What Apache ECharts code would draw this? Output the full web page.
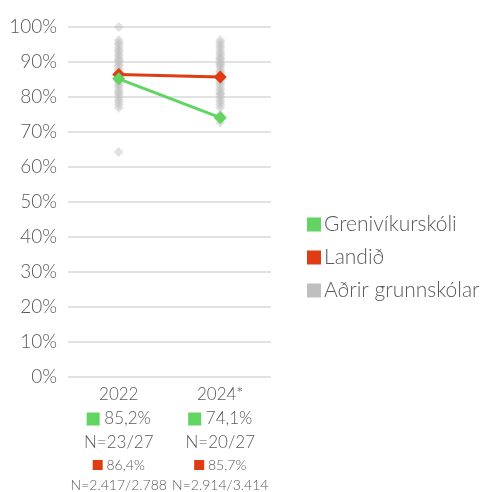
<!DOCTYPE html>
<html>
<head>
<meta charset="utf-8">
<script src="https://cdn.jsdelivr.net/npm/echarts@6/dist/echarts.min.js"></script>
<style>
  html, body { margin: 0; padding: 0; background: #fff; }
  #chart { width: 482px; height: 492px; }
</style>
</head>
<body>
<div id="chart"></div>
<script>
var years = ['2022', '2024*']
var schoolValues = [85.2, 74.1]
var schoolLabels = ['85,2%', '74,1%']
var schoolCounts = ['N=23/27', 'N=20/27']
var landValues = [86.4, 85.7]
var landLabels = ['86,4%', '85,7%']
var landCounts = ['N=2.417/2.788', 'N=2.914/3.414']
var others2022 = [100, 96.3, 95.5, 95, 94.2, 93.5, 93, 92.3, 91.7, 91, 90.5, 90, 89.3, 88.9, 88, 87.5, 87, 86.4, 85.7, 85,
  84.4, 83.8, 83.3, 82.6, 81.8, 81.3, 80.8, 80, 79.2, 78.6, 77.8, 76.9, 64.3]
var others2024 = [96.2, 95.5, 94.7, 94.1, 93.3, 92.6, 92, 91.3, 90.9, 90.5, 89.7, 89.3, 88.9, 88.2, 87.5, 87, 86.4, 85.7,
  85.2, 84.6, 84, 83.3, 82.4, 81.8, 81, 80.8, 80, 79.2, 78.6, 77.8, 76.9, 75, 73.9, 72.7]
var seriesNames = ['Grenivíkurskóli', 'Landið', 'Aðrir grunnskólar']

var green = '#62d462'
var red = '#e03c14'
var grey = '#bfbfbf'
var textColor = '#595959'
var font = 'Lato'
var weight = 300

var otherPoints = []
others2022.forEach(function(v) { otherPoints.push([0, v]) })
others2024.forEach(function(v) { otherPoints.push([1, v]) })

var chart = echarts.init(document.getElementById('chart'))
chart.setOption({
  animation: false,
  textStyle: { fontFamily: font },
  grid: { left: 68, right: 211, top: 27, bottom: 115, outerBoundsMode: 'none' },
  legend: {
    orient: 'vertical',
    left: 302,
    top: 209,
    icon: 'rect',
    itemWidth: 14,
    itemHeight: 14,
    itemGap: 12,
    data: [
      { name: seriesNames[0] },
      { name: seriesNames[1] },
      { name: seriesNames[2], itemStyle: { color: grey, opacity: 1 } }
    ],
    textStyle: { fontSize: 21, fontWeight: weight, color: textColor, fontFamily: font, padding: [0, 0, 0, -2] }
  },
  xAxis: {
    type: 'category',
    data: years,
    axisLine: { show: false },
    axisTick: { show: false },
    axisLabel: {
      interval: 0,
      margin: 6,
      formatter: function(val, i) {
        return '{y|' + val + '}\n{gs|}{v| ' + schoolLabels[i] + '}\n{v|' + schoolCounts[i] + '}\n' +
          '{rs|}{s| ' + landLabels[i] + '}\n{s|' + landCounts[i] + '}'
      },
      rich: {
        y: { fontSize: 17, fontWeight: weight, color: textColor, lineHeight: 24, fontFamily: font },
        v: { fontSize: 17, fontWeight: weight, color: textColor, lineHeight: 24, fontFamily: font },
        s: { fontSize: 14, fontWeight: weight, color: textColor, lineHeight: 20, fontFamily: font },
        gs: { width: 13, height: 13, backgroundColor: green },
        rs: { width: 10, height: 10, backgroundColor: red }
      }
    }
  },
  yAxis: {
    type: 'value',
    min: 0,
    max: 100,
    interval: 10,
    axisLabel: {
      formatter: '{value}%',
      fontSize: 19,
      fontWeight: weight,
      color: textColor,
      margin: 11,
      fontFamily: font
    },
    splitLine: { lineStyle: { color: '#d9d9d9', width: 1.5 } }
  },
  series: [
    {
      name: seriesNames[2],
      type: 'scatter',
      data: otherPoints,
      symbol: 'diamond',
      symbolSize: 10,
      itemStyle: { color: grey, opacity: 0.45 },
      z: 1
    },
    {
      name: seriesNames[1],
      type: 'line',
      data: landValues,
      symbol: 'diamond',
      symbolSize: 13,
      lineStyle: { color: red, width: 3 },
      itemStyle: { color: red },
      z: 3
    },
    {
      name: seriesNames[0],
      type: 'line',
      data: schoolValues,
      symbol: 'diamond',
      symbolSize: 13,
      lineStyle: { color: green, width: 3 },
      itemStyle: { color: green },
      z: 4
    }
  ]
})
</script>
</body>
</html>
